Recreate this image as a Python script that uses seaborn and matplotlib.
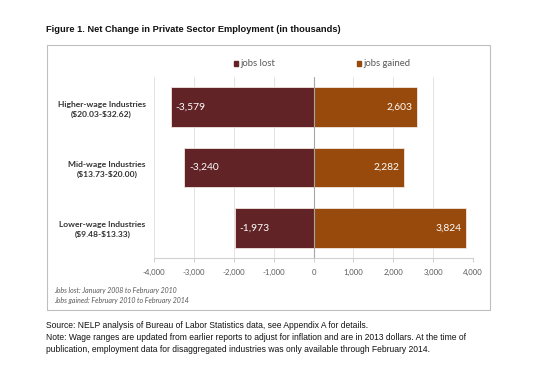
import matplotlib
matplotlib.use("Agg")
import matplotlib.pyplot as plt
from matplotlib.patches import Rectangle, Patch
import seaborn as sns
import pandas as pd

categories = ["Higher-wage Industries\n(\\$20.03-\\$32.62)",
              "Mid-wage Industries\n(\\$13.73-\\$20.00)",
              "Lower-wage Industries\n(\\$9.48-\\$13.33)"]
jobs_lost = [-3579, -3240, -1973]
jobs_gained = [2603, 2282, 3824]
series_names = ["jobs lost", "jobs gained"]
x_ticks = [-4000, -3000, -2000, -1000, 0, 1000, 2000, 3000, 4000]

c_lost = "#612325"
c_gain = "#974a0b"

df = pd.DataFrame({
    "category": categories * 2,
    "value": jobs_lost + jobs_gained,
    "series": [series_names[0]] * 3 + [series_names[1]] * 3,
})

sns.set_theme(style="white")
plt.rcParams["font.family"] = ["Lato", "DejaVu Sans"]

fig = plt.figure(figsize=(5.36, 3.72), dpi=100)
W, H = 536, 372
ax = fig.add_axes([154 / W, 1 - 258 / H, (473 - 154) / W, (258 - 77) / H])

sns.barplot(data=df, y="category", x="value", hue="series", dodge=False,
            palette={series_names[0]: c_lost, series_names[1]: c_gain},
            saturation=1, width=0.655, orient="h", edgecolor="#f2e6e0",
            linewidth=0.6, ax=ax, legend=False, zorder=3)

ax.set_xlim(-4000, 4000)
ax.set_ylim(2.5, -0.5)
ax.set_xticks(x_ticks)
ax.set_xticklabels([f"{v:,}" for v in x_ticks])
ax.set_xlabel("")
ax.set_ylabel("")

# gridlines
for v in x_ticks:
    if v == 0:
        ax.axvline(v, color="#a6a6a6", lw=0.8, zorder=4)
    else:
        ax.axvline(v, color="#e3e3e3", lw=0.7, zorder=1)

for s in ["top", "right", "left"]:
    ax.spines[s].set_visible(False)
ax.spines["bottom"].set_color("#d0d0d0")
ax.spines["bottom"].set_linewidth(0.8)
ax.tick_params(axis="x", length=3, width=0.7, color="#d0d0d0", pad=5,
               labelsize=5.6, labelcolor="#595959", direction="out", bottom=True)
ax.tick_params(axis="y", length=0, pad=6, labelsize=6.1, labelcolor="#333333")
for t in ax.get_yticklabels():
    t.set_multialignment("center")
    t.set_fontweight("bold")
    t.set_linespacing(1.45)

# value labels
for cont in ax.containers:
    for bar in cont:
        x0 = bar.get_x()
        w = bar.get_width()
        yc = bar.get_y() + bar.get_height() / 2
        if w < 0:
            ax.annotate(f"{w:,.0f}", (x0 + w, yc), xytext=(3.5, 0),
                        textcoords="offset points", ha="left", va="center",
                        color="white", fontsize=7.4, zorder=5)
        else:
            ax.annotate(f"{w:,.0f}", (x0 + w, yc), xytext=(-3.5, 0),
                        textcoords="offset points", ha="right", va="center",
                        color="white", fontsize=7.4, zorder=5)

# legend
handles = [Patch(color=c_lost), Patch(color=c_gain)]
fig.legend(handles, series_names, loc="center", ncol=2,
           bbox_to_anchor=(322 / W, 1 - 64 / H), frameon=False,
           handlelength=0.45, handleheight=0.45, handletextpad=0.25,
           columnspacing=8.6, fontsize=6.8, labelcolor="#595959")

# chart border
fig.patches.append(Rectangle((47 / W, 1 - 310 / H), (490 - 47) / W, (310 - 45) / H,
                             transform=fig.transFigure, fill=False,
                             edgecolor="#bfbfbf", linewidth=0.8))

# title
fig.text(46 / W, 1 - 30 / H, "Figure 1. Net Change in Private Sector Employment (in thousands)",
         family=["Liberation Sans", "DejaVu Sans"], fontweight="bold", fontsize=6.7,
         ha="left", va="center", color="#111111")

# footnotes in box
fig.text(54 / W, 1 - 290 / H, "Jobs lost: January 2008 to February 2010",
         fontstyle="italic", fontsize=5.0, color="#595959", ha="left", va="center")
fig.text(54 / W, 1 - 300 / H, "Jobs gained: February 2010 to February 2014",
         fontstyle="italic", fontsize=5.0, color="#595959", ha="left", va="center")

# source / notes
src_font = ["Liberation Sans", "DejaVu Sans"]
fig.text(46 / W, 1 - 326 / H,
         "Source: NELP analysis of Bureau of Labor Statistics data, see Appendix A for details.",
         family=src_font, fontsize=6.15, ha="left", va="center", color="#111111")
fig.text(46 / W, 1 - 338 / H,
         "Note: Wage ranges are updated from earlier reports to adjust for inflation and are in 2013 dollars. At the time of",
         family=src_font, fontsize=6.15, ha="left", va="center", color="#111111")
fig.text(46 / W, 1 - 349 / H,
         "publication, employment data for disaggregated industries was only available through February 2014.",
         family=src_font, fontsize=6.15, ha="left", va="center", color="#111111")

fig.savefig("out.png", dpi=100, facecolor="white")
